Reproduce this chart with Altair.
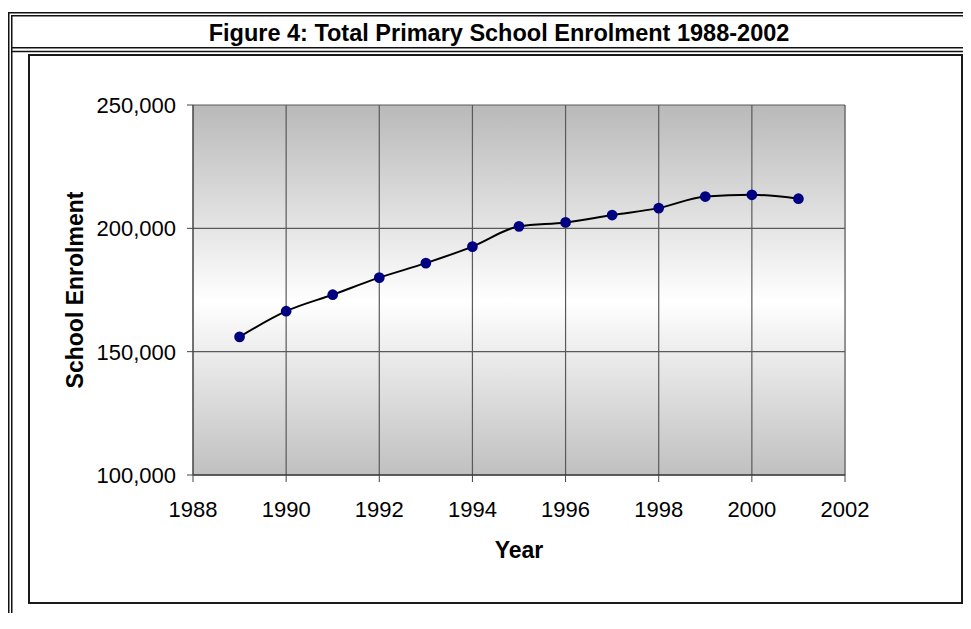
import altair as alt
import pandas as pd

# ---- data ----
years = [1989, 1990, 1991, 1992, 1993, 1994, 1995, 1996, 1997, 1998, 1999, 2000, 2001]
enrolment = [156000, 166400, 173100, 180000, 185900, 192600, 200800, 202400,
             205400, 208200, 212900, 213600, 212000]
x_ticks = [1988, 1990, 1992, 1994, 1996, 1998, 2000, 2002]
y_ticks = [100000, 150000, 200000, 250000]
grid_x = [1990, 1992, 1994, 1996, 1998, 2000, 2002]
grid_y = [150000, 200000, 250000]
title_text = "Figure 4: Total Primary School Enrolment 1988-2002"
x_title = "Year"
y_title = "School Enrolment"

# ---- layout ----
W, H = 652, 370          # plot area
OX, OY = 193, 105        # page position of plot origin
FONT = "Liberation Sans"
LABEL_SIZE = 22


def px(v):
    return v - OX


def py(v):
    return v - OY


df = pd.DataFrame({"Year": years, "Enrolment": enrolment})
one = pd.DataFrame({"k": [0]})
gx = pd.DataFrame({"Year": grid_x})
gy = pd.DataFrame({"Enrolment": grid_y})
tx = pd.DataFrame({"Year": x_ticks})
ty = pd.DataFrame({"Enrolment": y_ticks})

xscale = alt.Scale(domain=[1988, 2002], nice=False, zero=False)
yscale = alt.Scale(domain=[100000, 250000], nice=False, zero=False)
XQ = alt.X("Year:Q", scale=xscale, axis=None)
YQ = alt.Y("Enrolment:Q", scale=yscale, axis=None)

frame_col = "#111111"


def hline(y, x1, x2, w=1.5, c=frame_col):
    return alt.Chart(one).mark_rule(color=c, strokeWidth=w).encode(
        x=alt.value(px(x1)), x2=alt.value(px(x2)), y=alt.value(py(y)))


def vline(x, y1, y2, w=1.5, c=frame_col):
    return alt.Chart(one).mark_rule(color=c, strokeWidth=w).encode(
        x=alt.value(px(x)), y=alt.value(py(y1)), y2=alt.value(py(y2)))


frames = [
    vline(8.75, 12, 700),
    vline(11.75, 15, 700),
    hline(12.75, 8, 1000),
    hline(15.75, 11, 1000),
    hline(47.75, 11, 1000),
    hline(51.5, 11, 1000),
    # inner chart box
    vline(29, 55, 603, w=2, c="#1a1a1a"),
    vline(962, 55, 603, w=2, c="#1a1a1a"),
    hline(55, 28, 963, w=2, c="#1a1a1a"),
    hline(603, 28, 963, w=2, c="#1a1a1a"),
]

gradient = alt.Gradient(
    gradient="linear",
    stops=[alt.GradientStop(color="#b9b9b9", offset=0),
           alt.GradientStop(color="#ffffff", offset=0.53),
           alt.GradientStop(color="#c0c0c0", offset=1)],
    x1=0, x2=0, y1=0, y2=1)

plot_bg = alt.Chart(one).mark_rect(color=gradient).encode(
    x=alt.value(0), x2=alt.value(W), y=alt.value(0), y2=alt.value(H))

grid_v = alt.Chart(gx).mark_rule(color="#5a5a5a", strokeWidth=1.2).encode(x=XQ)
grid_h = alt.Chart(gy).mark_rule(color="#5a5a5a", strokeWidth=1.2).encode(y=YQ)

# axes drawn from the tick arrays through the scales
x_tick_marks = alt.Chart(tx).mark_rule(color="#444", strokeWidth=1).encode(
    x=XQ, y=alt.value(H), y2=alt.value(H + 7))
y_tick_marks = alt.Chart(ty).mark_rule(color="#444", strokeWidth=1).encode(
    y=YQ, x=alt.value(-6), x2=alt.value(0))
x_domain = alt.Chart(one).mark_rule(color="#333", strokeWidth=1.5).encode(
    x=alt.value(0), x2=alt.value(W), y=alt.value(H))
y_domain = alt.Chart(one).mark_rule(color="#444", strokeWidth=1.5).encode(
    x=alt.value(0), y=alt.value(0), y2=alt.value(H))

x_labels = alt.Chart(tx).mark_text(font=FONT, fontSize=LABEL_SIZE, color="black", align="center",
                                   baseline="alphabetic").encode(
    x=XQ, y=alt.value(H + 42), text=alt.Text("Year:Q", format="d"))
y_labels = alt.Chart(ty).mark_text(font=FONT, fontSize=LABEL_SIZE, color="black", align="right",
                                   baseline="alphabetic", dy=7.9).encode(
    y=YQ, x=alt.value(-17), text=alt.Text("Enrolment:Q", format=","))

x_title_mark = alt.Chart(one).mark_text(text=x_title, font=FONT, fontSize=23, fontWeight="bold",
                                         color="black", align="center",
                                         baseline="alphabetic").encode(
    x=alt.value(W / 2), y=alt.value(py(558)))
y_title_mark = alt.Chart(one).mark_text(text=y_title, font=FONT, fontSize=23, fontWeight="bold",
                                         color="black", align="center", angle=270,
                                         baseline="alphabetic").encode(
    x=alt.value(px(83)), y=alt.value(H / 2))

line = alt.Chart(df).mark_line(color="black", strokeWidth=2, interpolate="monotone").encode(
    x=XQ, y=YQ)

points = alt.Chart(df).mark_circle(size=115, color="#000080", opacity=1).encode(
    x=XQ, y=YQ)

title = alt.Chart(one).mark_text(text=title_text, font=FONT, fontSize=23.5, fontWeight="bold",
                                  color="black", align="center", baseline="alphabetic").encode(
    x=alt.value(px(499)), y=alt.value(py(41)))

chart = alt.layer(
    *frames, plot_bg, grid_v, grid_h,
    x_domain, y_domain, x_tick_marks, y_tick_marks, x_labels, y_labels,
    x_title_mark, y_title_mark, line, points, title
).properties(
    width=W, height=H,
    padding={"left": 185, "top": 97, "right": 118, "bottom": 138},
    autosize=alt.AutoSizeParams(type="none"),
).configure_view(stroke=None).configure(background="white")

chart.save("out.html", embed_options={"renderer": "svg", "actions": False})
